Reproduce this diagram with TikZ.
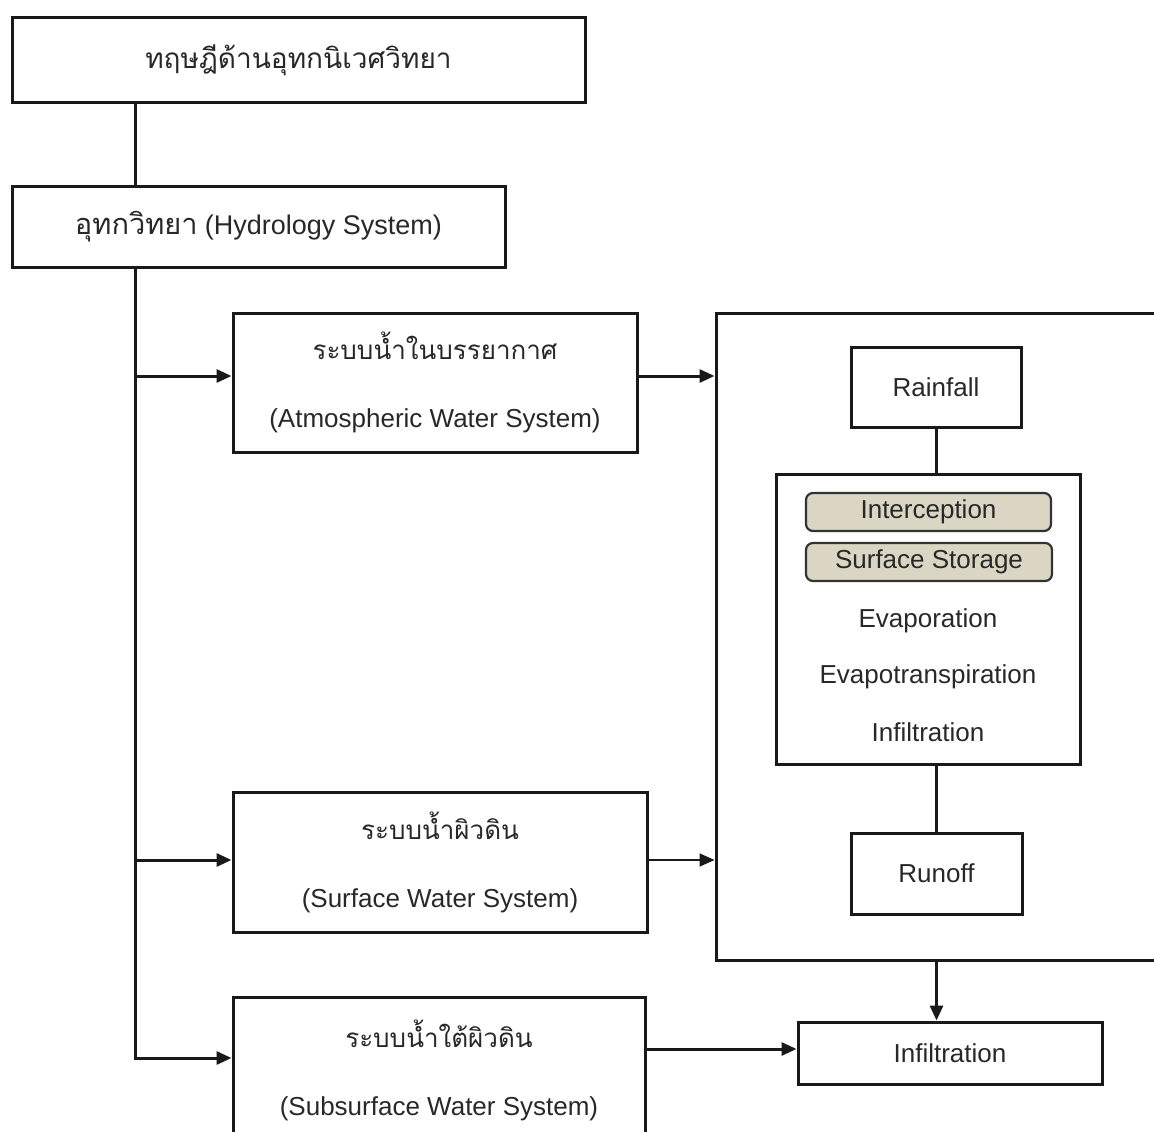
\documentclass[tikz,border=0pt]{standalone}
\usepackage{fontspec}
\setmainfont{Liberation Sans}
\newfontfamily\thaifont[Script=Thai]{Loma}
\usetikzlibrary{arrows.meta,calc}
\definecolor{txt}{RGB}{40,40,40}
\definecolor{beige}{RGB}{219,214,196}
\begin{document}
\begin{tikzpicture}[x=1pt,y=-1pt,
  box/.style={draw=black!90, line width=3pt, inner sep=0pt, align=center, text=txt,
    font=\fontsize{26}{68}\selectfont},
  tagbox/.style={draw=black!80, line width=2.2pt, fill=beige, rounded corners=7pt, inner sep=0pt,
    text=txt, font=\fontsize{26}{30}\selectfont},
  plain/.style={inner sep=0pt, text=txt, font=\fontsize{26}{30}\selectfont},
  conn/.style={line width=3pt, draw=black!90},
  arr/.style={conn, -{Triangle[length=15pt,width=13pt]}},
  thinarr/.style={line width=1.7pt, draw=black!90, -{Triangle[length=15pt,width=13pt]}}]
\useasboundingbox (0,0) rectangle (1154,1132);
\fill[white] (0,0) rectangle (1154,1132);
\clip (0,0) rectangle (1154,1132);

% top boxes
\node[box, minimum width=573pt, minimum height=84pt] (top) at (298.5,60) {\thaifont\fontsize{28}{34}\selectfont ทฤษฎีด้านอุทกนิเวศวิทยา};
\node[box, minimum width=493pt, minimum height=81pt] (hyd) at (258.5,226.5) {{\thaifont\fontsize{29}{34}\selectfont อุทกวิทยา} \fontsize{27}{32}\selectfont(Hydrology System)};

% system boxes
\node[box, minimum width=404pt, minimum height=139pt] (atm) at (435,382.5)
  {{\thaifont ระบบน้ำในบรรยากาศ}\\(Atmospheric Water System)};
\node[box, minimum width=414pt, minimum height=140pt] (surf) at (440,862)
  {{\thaifont ระบบน้ำผิวดิน}\\(Surface Water System)};
\node[box, minimum width=412pt, minimum height=146pt] (sub) at (439,1070)
  {{\thaifont ระบบน้ำใต้ผิวดิน}\\(Subsurface Water System)};

% big frame (continues past right edge)
\node[box, minimum width=464pt, minimum height=647pt] (big) at (948,636.5) {};

% inside frame
\node[box, minimum width=170pt, minimum height=80pt] (rain) at (936,387) {Rainfall};
\node[box, minimum width=304pt, minimum height=290pt] (inner) at (928,619) {};
\node[tagbox, minimum width=245pt, minimum height=38pt] (intc) at (928.5,512) {Interception};
\node[tagbox, minimum width=246pt, minimum height=38pt] (sst) at (929,562) {Surface Storage};
\node[plain] (evap) at (928,621) {Evaporation};
\node[plain] (evapt) at (928,677) {Evapotranspiration};
\node[plain] (infl1) at (928,732) {Infiltration};
\node[box, minimum width=171pt, minimum height=81pt] (run) at (936.5,873.5) {Runoff};

% infiltration box
\node[box, minimum width=304pt, minimum height=62pt] (infl) at (950,1053) {Infiltration};

% trunk coordinates
\coordinate (t0) at (135,0);
\coordinate (ya) at (0,376);
\coordinate (ys) at (0,860);
\coordinate (yb) at (0,1058);
\coordinate (yi) at (0,1049);

% connectors
\draw[conn] (top.south -| t0) -- (hyd.north -| t0);
\draw[arr] (hyd.south -| t0) |- (sub.west |- yb);
\draw[arr] (t0 |- ya) -- (atm.west |- ya);
\draw[arr] (t0 |- ys) -- (surf.west |- ys);
\draw[arr] (atm.east |- ya) -- (big.west |- ya);
\draw[thinarr] (surf.east |- ys) -- (big.west |- ys);
\draw[arr] (sub.east |- yi) -- (infl.west |- yi);
\draw[conn] (rain.south) -- (rain.south |- inner.north);
\draw[conn] (run.north |- inner.south) -- (run.north);
\draw[arr] (run.south |- big.south) -- (run.south |- infl.north);
\end{tikzpicture}
\end{document}
